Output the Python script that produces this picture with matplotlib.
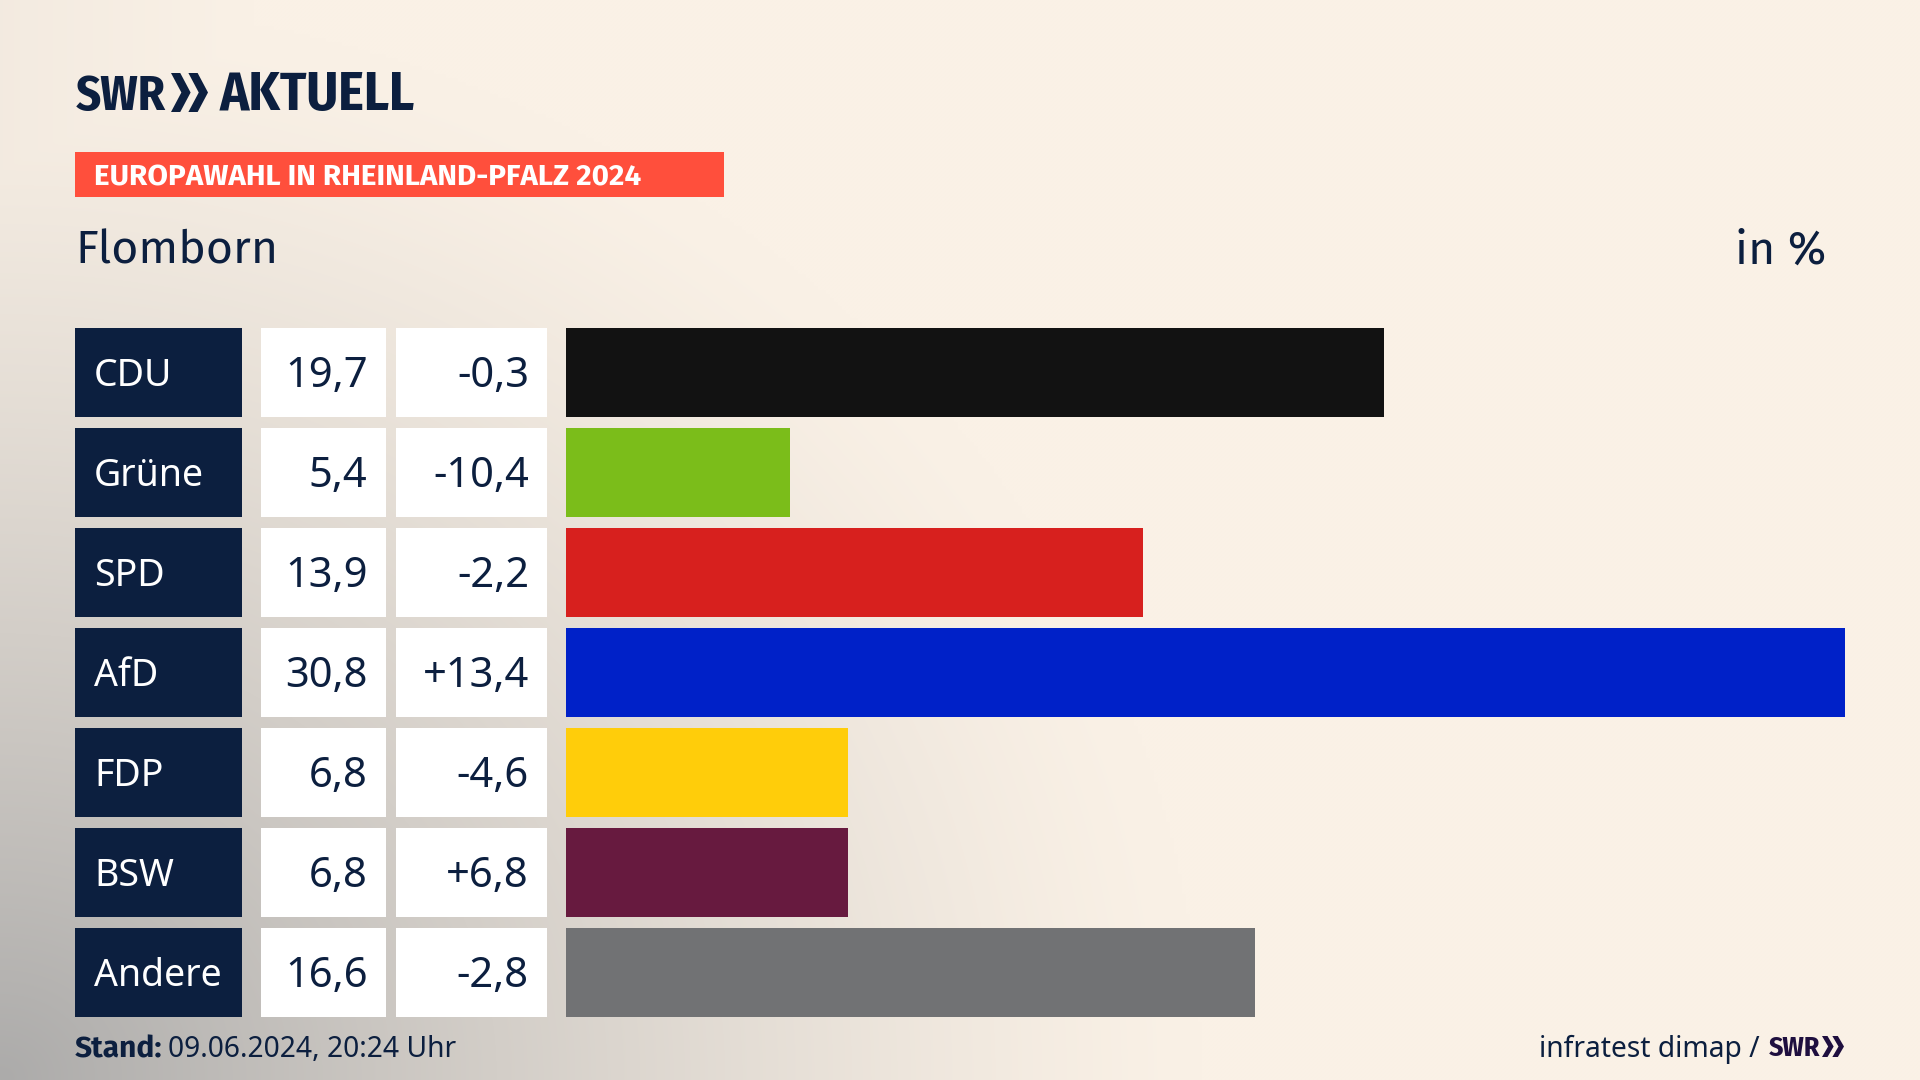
import numpy as np
import matplotlib
matplotlib.use('Agg')
import matplotlib.pyplot as plt
from matplotlib.patches import Polygon, Rectangle

parties = ['CDU', 'Grüne', 'SPD', 'AfD', 'FDP', 'BSW', 'Andere']
shares = [19.7, 5.4, 13.9, 30.8, 6.8, 6.8, 16.6]
changes = ['-0,3', '-10,4', '-2,2', '+13,4', '-4,6', '+6,8', '-2,8']
bar_colors = ['#121212', '#7BBD1A', '#D7201E', '#0021C8', '#FFCD0A', '#671A3F', '#717274']

NAVY = '#0C1F3F'
font = ['Noto Sans', 'DejaVu Sans']
title_font = ['Fira Sans', 'Noto Sans']
bold_font = ['Fira Sans', 'Lato']
logo_font = ['Fira Sans Condensed', 'Lato']

W, H = 1920, 1080
fig = plt.figure(figsize=(W / 100, H / 100), dpi=100)

# full figure axes in pixels, y going down
ax = fig.add_axes([0, 0, 1, 1])
ax.set_xlim(0, W)
ax.set_ylim(H, 0)
ax.axis('off')

# background, cream with grey coming in from the lower left corner
yy, xx = np.mgrid[0:H:270j, 0:W:480j]
dist = np.sqrt((xx / 1200) ** 2 + ((H - yy) / 1080) ** 2)
t = np.clip(1 - dist, 0, 1) ** 1.3
t = np.maximum(t, 0.09 * np.clip(1 - xx / 250, 0, 1))
cream = np.array([250, 241, 230]) / 255
grey = np.array([172, 171, 170]) / 255
bg = cream[None, None, :] + (grey - cream)[None, None, :] * t[:, :, None]
ax.imshow(bg, extent=[0, W, H, 0], aspect='auto', zorder=0, interpolation='bilinear')


def chevrons(x, y, w, h, color):
    # two arrow heads next to each other
    step = w * 0.47
    tip = w * 0.53
    notch = w * 0.25
    for i in range(2):
        x0 = x + i * step
        ax.add_patch(Polygon([(x0, y), (x0 + notch, y), (x0 + tip, y + h / 2),
                              (x0 + notch, y + h), (x0, y + h), (x0 + tip - notch, y + h / 2)],
                             closed=True, fc=color, ec='none', zorder=3))


# logo
ax.text(76, 110, 'SWR', family=logo_font, weight='bold', fontsize=35, color=NAVY, va='baseline')
chevrons(171, 73, 37, 39, NAVY)
ax.text(220, 110, 'AKTUELL', family=logo_font, weight='bold', fontsize=39, color=NAVY, va='baseline')

# header
ax.add_patch(Rectangle((75, 152), 649, 45, fc='#FF4F3C', ec='none', zorder=2))
ax.text(94, 185, 'EUROPAWAHL IN RHEINLAND-PFALZ 2024', family=bold_font, weight='bold', fontsize=21.4,
        color='white', va='baseline', zorder=3)
ax.text(75, 264, 'Flomborn', family=title_font, fontsize=33.5, color=NAVY, va='baseline')
ax.text(1826, 264, 'in %', family=title_font, fontsize=33.5, color=NAVY, va='baseline', ha='right')

# table part
row_y = [372.5 + 100 * i for i in range(len(parties))]
row_h = 88.5
ax.barh(row_y, 167, left=75, height=row_h, color=NAVY, zorder=2)
ax.barh(row_y, 125, left=261, height=row_h, color='white', zorder=2)
ax.barh(row_y, 151, left=396, height=row_h, color='white', zorder=2)

for y, party, share, change in zip(row_y, parties, shares, changes):
    ax.text(94, y + 13, party, family=font, fontsize=27, color='white', va='baseline', zorder=3)
    ax.text(367.5, y + 14, f'{share:.1f}'.replace('.', ','), family=font, fontsize=30, color=NAVY,
            va='baseline', ha='right', zorder=3)
    ax.text(529, y + 14, change, family=font, fontsize=30, color=NAVY, va='baseline', ha='right', zorder=3)

# bars
ax_bar = fig.add_axes([566 / W, 1 - 1022.5 / H, (1845 - 566) / W, 700 / H])
ax_bar.patch.set_alpha(0)
ax_bar.barh(range(len(parties)), shares, height=row_h / 100, color=bar_colors)
ax_bar.set_xlim(0, 30.8)
ax_bar.set_ylim(6.5, -0.5)
ax_bar.axis('off')

# footer
ax.text(75, 1057, 'Stand:', family=bold_font, weight='bold', fontsize=21.5, color=NAVY, va='baseline')
ax.text(168, 1057, '09.06.2024, 20:24 Uhr', family=font, fontsize=20.3, color=NAVY, va='baseline')
ax.text(1760, 1056.5, 'infratest dimap /', family=font, fontsize=20.3, color=NAVY, va='baseline', ha='right')
ax.text(1769, 1056, 'SWR', family=logo_font, weight='bold', fontsize=20, color='#1F0F3F', va='baseline')
chevrons(1822, 1036, 22, 21, '#1F0F3F')

fig.savefig('out.png', dpi=100)
